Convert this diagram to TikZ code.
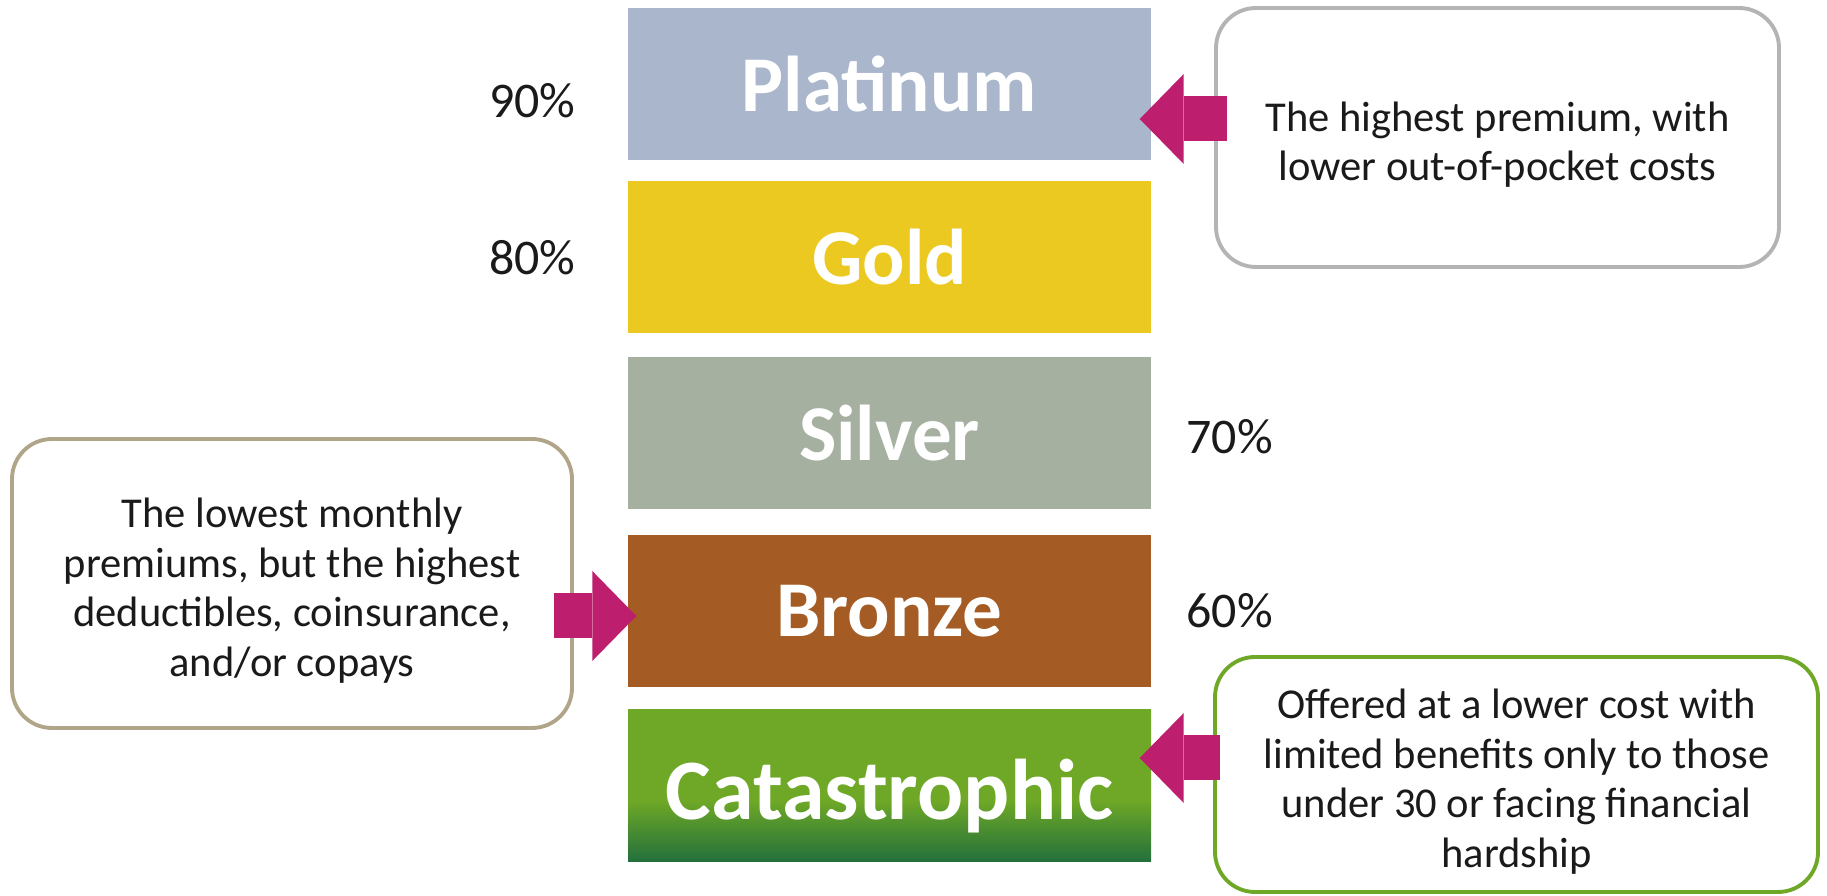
\documentclass[tikz,border=0pt]{standalone}
\usepackage{fontspec}
\setmainfont{Carlito}
\usetikzlibrary{positioning,arrows.meta}

\definecolor{platinum}{HTML}{A9B6CB}
\definecolor{gold}{HTML}{ECC921}
\definecolor{silver}{HTML}{A6B0A0}
\definecolor{bronze}{HTML}{A45C24}
\definecolor{catgreen}{HTML}{6EA826}
\definecolor{catdark}{HTML}{23703C}
\definecolor{accent}{HTML}{BE1E6E}
\definecolor{greyline}{HTML}{B4B4B4}
\definecolor{tanline}{HTML}{B0A588}
\definecolor{ink}{HTML}{1A1A1A}

% green bar darkens towards its lower edge
\pgfdeclareverticalshading{catfade}{100bp}{color(0bp)=(catdark); color(25bp)=(catdark);
  color(45bp)=(catgreen); color(100bp)=(catgreen)}

% taller first line, pushes the callout text down a little
\newcommand{\notelift}{\rule{0pt}{12.5pt}}

\begin{document}
\begin{tikzpicture}[
    tier/.style={minimum width=5.23cm, minimum height=1.52cm, inner sep=0pt, text=white,
      font=\fontsize{22.5}{27}\selectfont\bfseries},
    pct/.style={inner sep=0pt, text=ink, font=\fontsize{14.2}{17}\selectfont},
    note/.style={draw, line width=1.1pt, rounded corners=0.4cm, fill=white, align=center,
      inner sep=0pt, text=ink, font=\fontsize{12.1}{14.2}\selectfont},
    blockarr/.style={draw=accent, line width=0.45cm,
      -{Triangle[length=0.44cm, width=0.9cm, line width=0pt]}},
  ]
  \useasboundingbox (0,0) rectangle (18.27,-8.96);

  % metal tiers
  \node[tier, fill=platinum] (plat) at (8.895,-0.84) {Platinum};
  \node[tier, fill=gold] (gold) at (8.895,-2.575) {Gold};
  \node[tier, fill=silver] (silv) at (8.895,-4.33) {Silver};
  \node[tier, fill=bronze] (bron) at (8.895,-6.11) {Bronze};
  \node[tier, shade, shading=catfade, font=\fontsize{24.5}{29}\selectfont\bfseries,
    text height=19.6pt, text depth=0pt] (cat) at (8.895,-7.855) {Catastrophic};

  % actuarial values
  \node[pct, left=0.51cm of plat, yshift=-0.17cm] (p90) {90\%};
  \node[pct, left=0.51cm of gold] (p80) {80\%};
  \node[pct, right=0.34cm of silv, yshift=-0.04cm] (p70) {70\%};
  \node[pct, right=0.34cm of bron] (p60) {60\%};

  % callouts
  \node[note, draw=greyline, minimum width=5.63cm, minimum height=2.59cm] (hi) at (14.975,-1.375)
    {\notelift The highest premium, with\\lower out-of-pocket costs};
  \node[note, draw=tanline, minimum width=5.60cm, minimum height=2.89cm] (lo) at (2.92,-5.835)
    {\notelift The lowest monthly\\premiums, but the highest\\deductibles, coinsurance,\\and/or copays};
  \node[note, draw=catgreen, minimum width=6.03cm, minimum height=2.35cm] (cnote) at (15.165,-7.745)
    {\notelift Offered at a lower cost with\\limited benefits only to those\\under 30 or facing financial\\hardship};

  % pointers from the callouts to the tiers
  \draw[blockarr] ([shift={(0.13,0.185)}]hi.west) coordinate (a1) -- ([xshift=-0.12cm]plat.east |- a1);
  \draw[blockarr] ([shift={(-0.20,-0.325)}]lo.east) coordinate (a2) -- ([xshift=0.09cm]bron.west |- a2);
  \draw[blockarr] ([shift={(0.07,0.165)}]cnote.west) coordinate (a3) -- ([xshift=-0.12cm]cat.east |- a3);
\end{tikzpicture}
\end{document}
